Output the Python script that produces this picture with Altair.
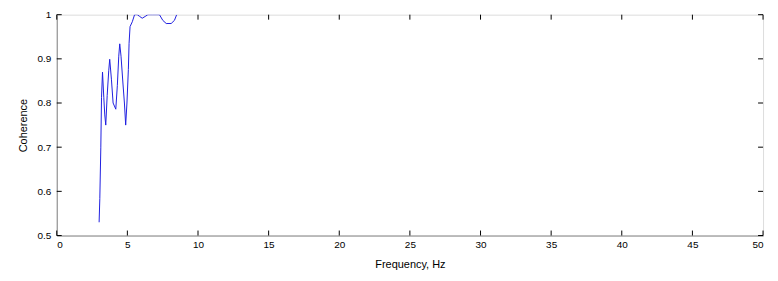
import altair as alt
import pandas as pd

freq = [3.0, 3.05, 3.12, 3.17, 3.24, 3.33, 3.40, 3.47, 3.57, 3.68, 3.75, 3.87, 3.99,
        4.18, 4.29, 4.39, 4.46, 4.55, 4.69, 4.79, 4.88, 4.97, 5.07, 5.12, 5.19, 5.35,
        5.51, 5.70, 5.87, 6.05, 6.26, 6.45, 6.8, 7.27, 7.51, 7.75, 8.1, 8.33, 8.49]
coh = [0.53, 0.584, 0.70, 0.813, 0.87, 0.813, 0.773, 0.75, 0.817, 0.873, 0.899, 0.854,
       0.80, 0.786, 0.84, 0.906, 0.934, 0.906, 0.843, 0.80, 0.75, 0.80, 0.876, 0.935,
       0.973, 0.984, 1.0, 1.0, 0.996, 0.992, 0.996, 1.0, 1.0, 1.0, 0.987, 0.98, 0.98,
       0.987, 1.0]

x_ticks = [0, 5, 10, 15, 20, 25, 30, 35, 40, 45, 50]
y_ticks = [0.5, 0.6, 0.7, 0.8, 0.9, 1.0]

W, H = 710, 222
TL = 5
FONT = "Liberation Sans"

df = pd.DataFrame({"f": freq, "c": coh})
xt = pd.DataFrame({"t": x_ticks})
yt = pd.DataFrame({"t": y_ticks})

xscale = alt.Scale(domain=[0, 50], nice=False, zero=False)
yscale = alt.Scale(domain=[0.5, 1.0], nice=False, zero=False)

line = alt.Chart(df).mark_line(color="#1f1fe0", strokeWidth=1, clip=True).encode(
    x=alt.X("f:Q", scale=xscale,
            axis=alt.Axis(values=x_ticks, title="Frequency, Hz", tickSize=0,
                          labelPadding=4, grid=False, format="d", titlePadding=9,
                          titleFontWeight="normal")),
    y=alt.Y("c:Q", scale=yscale,
            axis=alt.Axis(values=y_ticks, title="Coherence", tickSize=0,
                          labelPadding=6, grid=False, titlePadding=8,
                          titleFontWeight="normal",
                          labelExpr="datum.value == 1 ? '1' : format(datum.value, '.1f')")),
)

tick_color = "black"
bottom = alt.Chart(xt).mark_rule(color=tick_color, strokeWidth=1).encode(
    x=alt.X("t:Q", scale=xscale), y=alt.value(H), y2=alt.value(H - TL))
top = alt.Chart(xt).mark_rule(color=tick_color, strokeWidth=1).encode(
    x=alt.X("t:Q", scale=xscale), y=alt.value(0), y2=alt.value(TL))
left = alt.Chart(yt).mark_rule(color=tick_color, strokeWidth=1).encode(
    y=alt.Y("t:Q", scale=yscale), x=alt.value(0), x2=alt.value(TL))
right = alt.Chart(yt).mark_rule(color=tick_color, strokeWidth=1).encode(
    y=alt.Y("t:Q", scale=yscale), x=alt.value(W), x2=alt.value(W - TL))

chart = alt.layer(line, bottom, top, left, right).properties(
    width=W, height=H,
    autosize=alt.AutoSizeParams(type="none"),
    padding={"left": 49, "top": 6, "right": 7, "bottom": 44},
).configure_view(
    stroke="black", strokeWidth=1
).configure_axis(
    domainColor="black", labelColor="#111", titleColor="#111",
    labelFont=FONT, titleFont=FONT, labelFontSize=11, titleFontSize=11,
    titleFontWeight="normal",
).configure(background="white")

chart.save("out.html", embed_options={"renderer": "svg", "actions": False})
